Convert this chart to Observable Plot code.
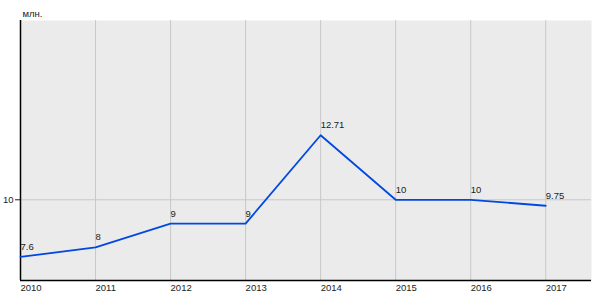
<!DOCTYPE html>
<html>
<head>
<meta charset="utf-8">
<script src="https://cdn.jsdelivr.net/npm/d3@7"></script>
<script src="https://cdn.jsdelivr.net/npm/@observablehq/plot@0.6"></script>
<style>
  html, body { margin: 0; padding: 0; background: #ffffff; }
</style>
</head>
<body>
<div id="chart"></div>
<script>
const years = [2010, 2011, 2012, 2013, 2014, 2015, 2016, 2017];
const values = [7.6, 8, 9, 9, 12.71, 10, 10, 9.75];
const valueLabels = ["7.6", "8", "9", "9", "12.71", "10", "10", "9.75"];
const yTicks = [10];
const unitLabel = "млн.";

const data = years.map((y, i) => ({year: y, value: values[i], label: valueLabels[i]}));
const yMin = 6.61, yMax = 17.53;

const chart = Plot.plot({
  width: 600,
  height: 300,
  marginTop: 20,
  marginLeft: 20,
  marginRight: 9,
  marginBottom: 20,
  style: {fontFamily: "'Liberation Sans', Arial, sans-serif", fontSize: "9.5px", background: "#ffffff", color: "#222"},
  x: {domain: [2010, 2017.61]},
  y: {domain: [yMin, yMax]},
  marks: [
    Plot.frame({fill: "#ebebeb", stroke: null}),
    Plot.gridX(years, {stroke: "#c8c8c8", strokeOpacity: 1}),
    Plot.gridY(yTicks, {stroke: "#c8c8c8", strokeOpacity: 1}),
    Plot.axisX(years, {tickSize: 0, tickPadding: 4, textAnchor: "start", tickFormat: d => String(d), label: null, fill: "#222"}),
    Plot.axisY(yTicks, {tickSize: 5, tickPadding: 2, label: null, stroke: "#222", fill: "#222"}),
    Plot.ruleX([2010], {stroke: "#000", strokeWidth: 1.5}),
    Plot.ruleY([yMin], {stroke: "#000", strokeWidth: 1.5}),
    Plot.line(data, {x: "year", y: "value", stroke: "#0048e2", strokeWidth: 1.8}),
    Plot.text(data, {x: "year", y: "value", text: "label", textAnchor: "start", dy: -10, fill: "#222"}),
    Plot.text([unitLabel], {frameAnchor: "top-left", lineAnchor: "middle", dx: 2, dy: -7, textAnchor: "start", fill: "#222"})
  ]
});
document.getElementById("chart").appendChild(chart);
</script>
</body>
</html>
